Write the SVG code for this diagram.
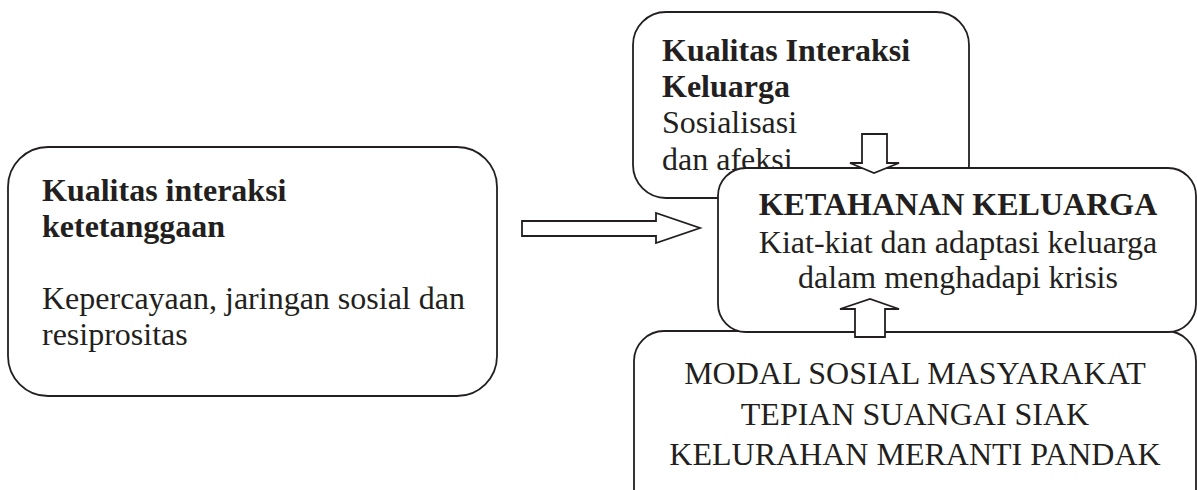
<svg xmlns="http://www.w3.org/2000/svg" width="1197" height="490" viewBox="0 0 1197 490">
<style>
.box{fill:#fff;stroke:#231f20;stroke-width:1.8}
.arr{fill:#fff;stroke:#231f20;stroke-width:1.8;stroke-linejoin:miter}
text{font-family:"Liberation Serif","Times New Roman",serif;font-size:32px;fill:#231f20}
.b{font-weight:bold}
.c{text-anchor:middle}
</style>
<rect width="1197" height="490" fill="#fff"/>
<g id="node-tetangga">
<rect class="box" x="8" y="147" width="489" height="249" rx="40" ry="40"/>
<text class="b" x="42" y="201">Kualitas interaksi</text>
<text class="b" x="42" y="237">ketetanggaan</text>
<text x="42" y="309">Kepercayaan, jaringan sosial dan</text>
<text x="42" y="345">resiprositas</text>
</g>
<g id="node-keluarga">
<rect class="box" x="633" y="12" width="336" height="186" rx="33" ry="33"/>
<text class="b" x="662" y="61">Kualitas Interaksi</text>
<text class="b" x="662" y="97">Keluarga</text>
<text x="662" y="133">Sosialisasi</text>
<text x="662" y="170">dan afeksi</text>
</g>
<g id="node-modal">
<rect class="box" x="634" y="331" width="562" height="200" rx="30" ry="30"/>
<text class="c" x="915" y="384">MODAL SOSIAL MASYARAKAT</text>
<text class="c" x="915" y="425">TEPIAN SUANGAI SIAK</text>
<text class="c" x="915" y="465">KELURAHAN MERANTI PANDAK</text>
</g>
<g id="node-ketahanan">
<rect class="box" x="718" y="168" width="478" height="164" rx="28" ry="28"/>
<text class="b c" x="958" y="215">KETAHANAN KELUARGA</text>
<text class="c" x="958" y="253">Kiat-kiat dan adaptasi keluarga</text>
<text class="c" x="958" y="288">dalam menghadapi krisis</text>
</g>
<g id="connectors">
<polygon class="arr" points="522,221 656,221 656,213 700,228 656,243 656,236 522,236"/>
<polygon class="arr" points="862,134 887,134 887,163 899,163 874,173 850,163 862,163"/>
<polygon class="arr" points="855,337 855,309 840,309 870,299 899,309 885,309 885,337"/>
</g>
</svg>
